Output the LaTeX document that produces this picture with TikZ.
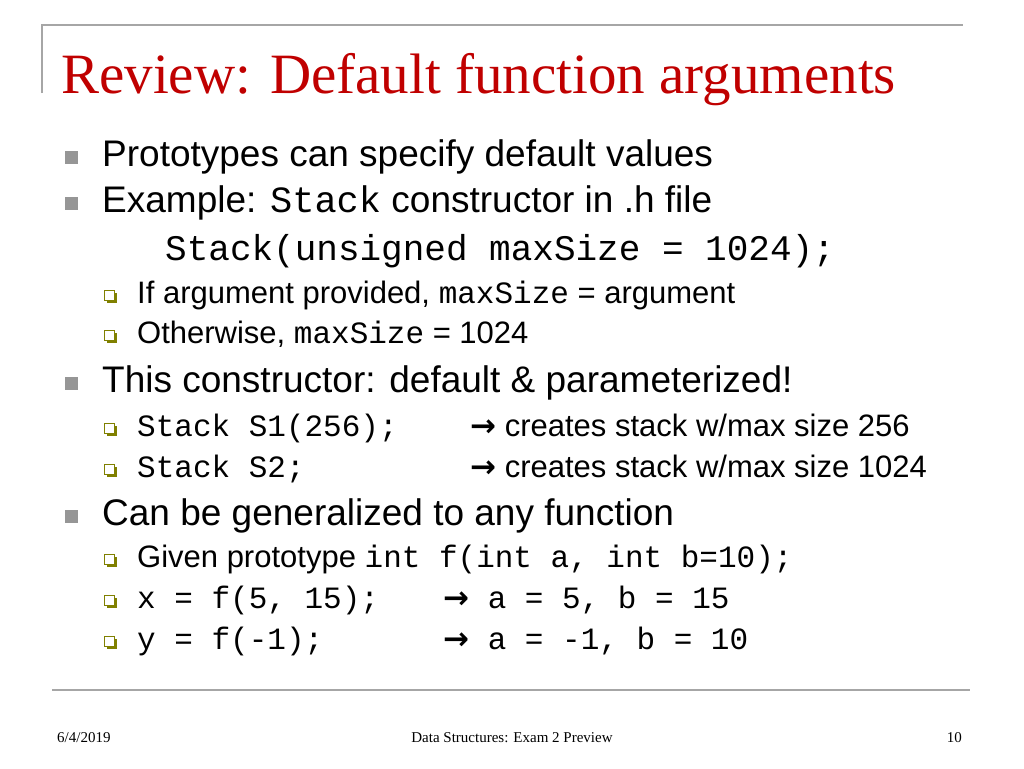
\documentclass[tikz,border=0pt]{standalone}
\usepackage{fontspec}
\setmainfont{Liberation Sans}
\newfontfamily\ser{Liberation Serif}
\newfontfamily\mon{Liberation Mono}
\newfontfamily\arr{DejaVu Sans}
\definecolor{ttl}{RGB}{192,0,0}
\definecolor{bul}{RGB}{150,150,150}
\definecolor{olv}{RGB}{128,128,0}
\newcommand\ar{{\arr\bfseries →}}
\begin{document}
\begin{tikzpicture}[x=1pt,y=-1pt,
  txt/.style={anchor=base west,inner sep=0pt,font=\fontsize{37}{37}\selectfont},
  sub/.style={anchor=base west,inner sep=0pt,font=\fontsize{31}{31}\selectfont},
  code/.style={anchor=base west,inner sep=0pt,font=\mon\fontsize{31}{31}\selectfont},
  foot/.style={inner sep=0pt,font=\ser\fontsize{15}{15}\selectfont}]
\useasboundingbox (0,0) rectangle (1024,768);
\fill[white] (0,0) rectangle (1024,768);
\draw[gray!70,line width=1.5pt] (42,93) -- (42,25) -- (963,25);
\draw[gray!70,line width=1.5pt] (52,690) -- (970,690);
\node[anchor=base west,inner sep=0pt,text=ttl,font=\ser\fontsize{57}{57}\selectfont] (title) at (61,93) {Review: Default function arguments};
\newcommand\bigb[1]{\fill[bul] (65,#1-15) rectangle (78,#1-2);}
\newcommand\smb[1]{\fill[olv] (107,#1-10) rectangle (117,#1);\fill[white,draw=olv,line width=0.8pt] (104,#1-13) rectangle (114,#1-3);}
\bigb{166}\node[txt] (l1) at (102,166) {Prototypes can specify default values};
\bigb{212}\node[txt] (l2) at (102,212) {Example: {\mon Stack} constructor in .h file};
\node[code,font=\mon\fontsize{36}{36}\selectfont] (c1) at (165,260) {Stack(unsigned maxSize = 1024);};
\smb{303}\node[sub] (s1) at (137,303) {If argument provided, {\mon maxSize} = argument};
\smb{343}\node[sub] (s2) at (137,343) {Otherwise, {\mon maxSize} = 1024};
\bigb{392}\node[txt] (l3) at (102,392) {This constructor: default \& parameterized!};
\smb{436}\node[code] (s3) at (137,436) {Stack S1(256);};
\node[sub] (a3) at (470,436) {\ar{} creates stack w/max size 256};
\smb{477}\node[code] (s4) at (137,477) {Stack S2;};
\node[sub] (a4) at (470,477) {\ar{} creates stack w/max size 1024};
\bigb{525}\node[txt] (l4) at (102,525) {Can be generalized to any function};
\smb{567}\node[sub] (s5) at (137,567) {Given prototype {\mon int f(int a, int b=10);}};
\smb{608}\node[code] (s6) at (137,608) {x = f(5, 15);};
\node[code] (a6) at (443,608) {\ar{} a = 5, b = 15};
\smb{649}\node[code] (s7) at (137,649) {y = f(-1);};
\node[code] (a7) at (443,649) {\ar{} a = -1, b = 10};
\node[foot,anchor=base west] (d) at (57,742) {6/4/2019};
\node[foot,anchor=base] (f) at (512,742) {Data Structures: Exam 2 Preview};
\node[foot,anchor=base east] (n) at (962,742) {10};
\end{tikzpicture}
\end{document}
